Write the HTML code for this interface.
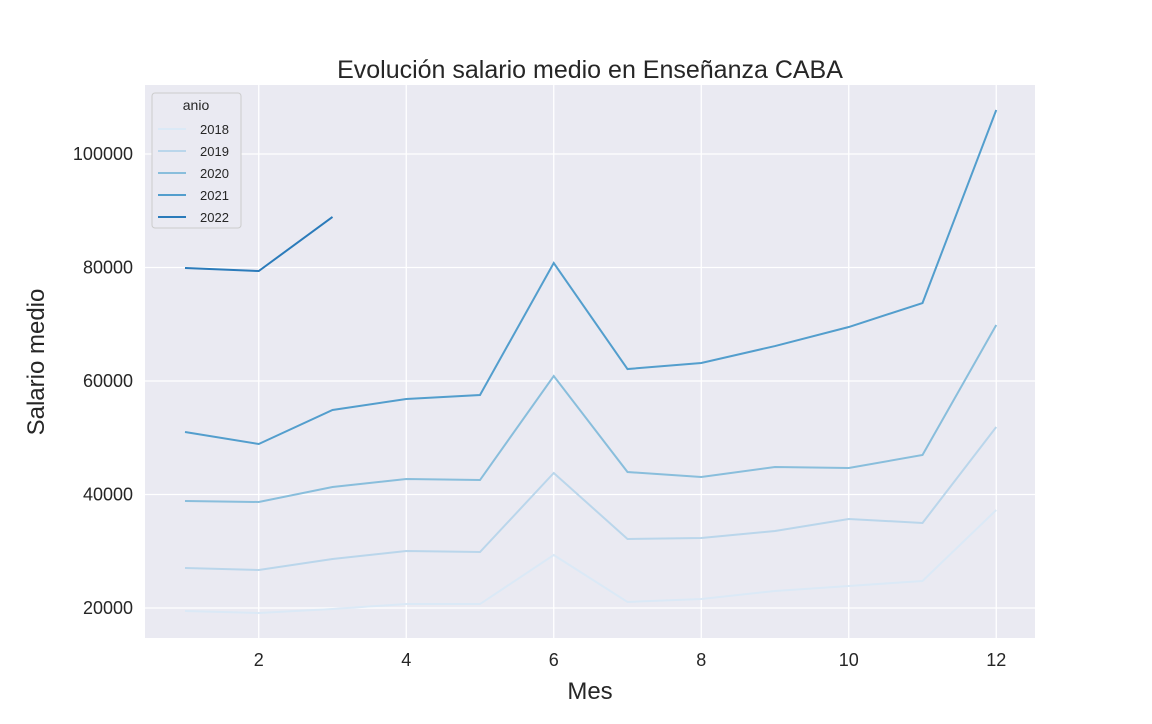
<!DOCTYPE html>
<html><head><meta charset="utf-8"><style>
body{margin:0;background:#fff;font-family:"Liberation Sans",Arial,sans-serif}
</style></head><body>
<svg id="chart" width="1152" height="719" xmlns="http://www.w3.org/2000/svg" font-family="Liberation Sans, Arial, sans-serif"></svg>
<script>
const months=[1,2,3,4,5,6,7,8,9,10,11,12];
const years=['2018','2019','2020','2021','2022'];
const s2018=[19470,19120,19820,20700,20700,29340,21060,21590,23000,23880,24760,37270];
const s2019=[27050,26700,28630,30040,29860,43790,32160,32330,33560,35680,34980,51900];
const s2020=[38850,38680,41320,42730,42550,60880,43960,43080,44840,44670,46960,69860];
const s2021=[51010,48900,54890,56830,57530,80790,62110,63170,66160,69510,73740,107750];
const s2022=[79910,79380,88900];
const xTicks=[2,4,6,8,10,12];
const yTicks=[20000,40000,60000,80000,100000];
const series=[s2018,s2019,s2020,s2021,s2022];
const colors=['#dbe9f6','#bad6eb','#89bedc','#539ecd','#2b7bba'];
const svg=document.getElementById('chart');
const NS='http://www.w3.org/2000/svg';
const L=145,R=1035,T=85,B=638;
const xs=m=>185+(m-1)*73.75;
const ys=v=>608-(v-20000)*113.5/20000;
function el(tag,attrs,name,text){const e=document.createElementNS(NS,tag);for(const k in attrs)e.setAttribute(k,attrs[k]);


if(text!==undefined)e.textContent=text;svg.appendChild(e);return e;}
el('rect',{x:L,y:T,width:R-L,height:B-T,fill:'#eaeaf2'},'plot-area');
xTicks.forEach(t=>{el('line',{x1:xs(t),x2:xs(t),y1:T,y2:B,stroke:'#fff','stroke-width':1.3},'x-gridline');
el('text',{x:xs(t),y:666,'text-anchor':'middle','font-size':18,fill:'#262626'},'x-tick-label',String(t));});
yTicks.forEach(t=>{el('line',{x1:L,x2:R,y1:ys(t),y2:ys(t),stroke:'#fff','stroke-width':1.3},'y-gridline');
el('text',{x:133,y:ys(t)+6,'text-anchor':'end','font-size':18,fill:'#262626'},'y-tick-label',String(t));});
series.forEach((s,i)=>{el('polyline',{points:s.map((v,j)=>xs(months[j])+','+ys(v)).join(' '),fill:'none',stroke:colors[i],'stroke-width':2},'line-'+years[i]);});
el('text',{x:590,y:78,'text-anchor':'middle','font-size':25,fill:'#262626'},'chart-title','Evolución salario medio en Enseñanza CABA');
el('text',{x:590,y:699,'text-anchor':'middle','font-size':24,fill:'#262626'},'x-axis-title','Mes');
el('text',{x:44,y:362,'text-anchor':'middle','font-size':24,fill:'#262626',transform:'rotate(-90 44 362)'},'y-axis-title','Salario medio');
el('rect',{x:152,y:93,width:89,height:135,fill:'#eaeaf2',stroke:'#cccccc',rx:3},'legend-box');
el('text',{x:196,y:110,'text-anchor':'middle','font-size':14,fill:'#262626'},'legend-title','anio');
years.forEach((y,i)=>{const yy=129+i*22;
el('line',{x1:158,x2:186,y1:yy,y2:yy,stroke:colors[i],'stroke-width':2},'legend-swatch-'+y);
el('text',{x:200,y:yy+5,'font-size':13,fill:'#262626'},'legend-label-'+y,y);});
</script>
</body></html>
